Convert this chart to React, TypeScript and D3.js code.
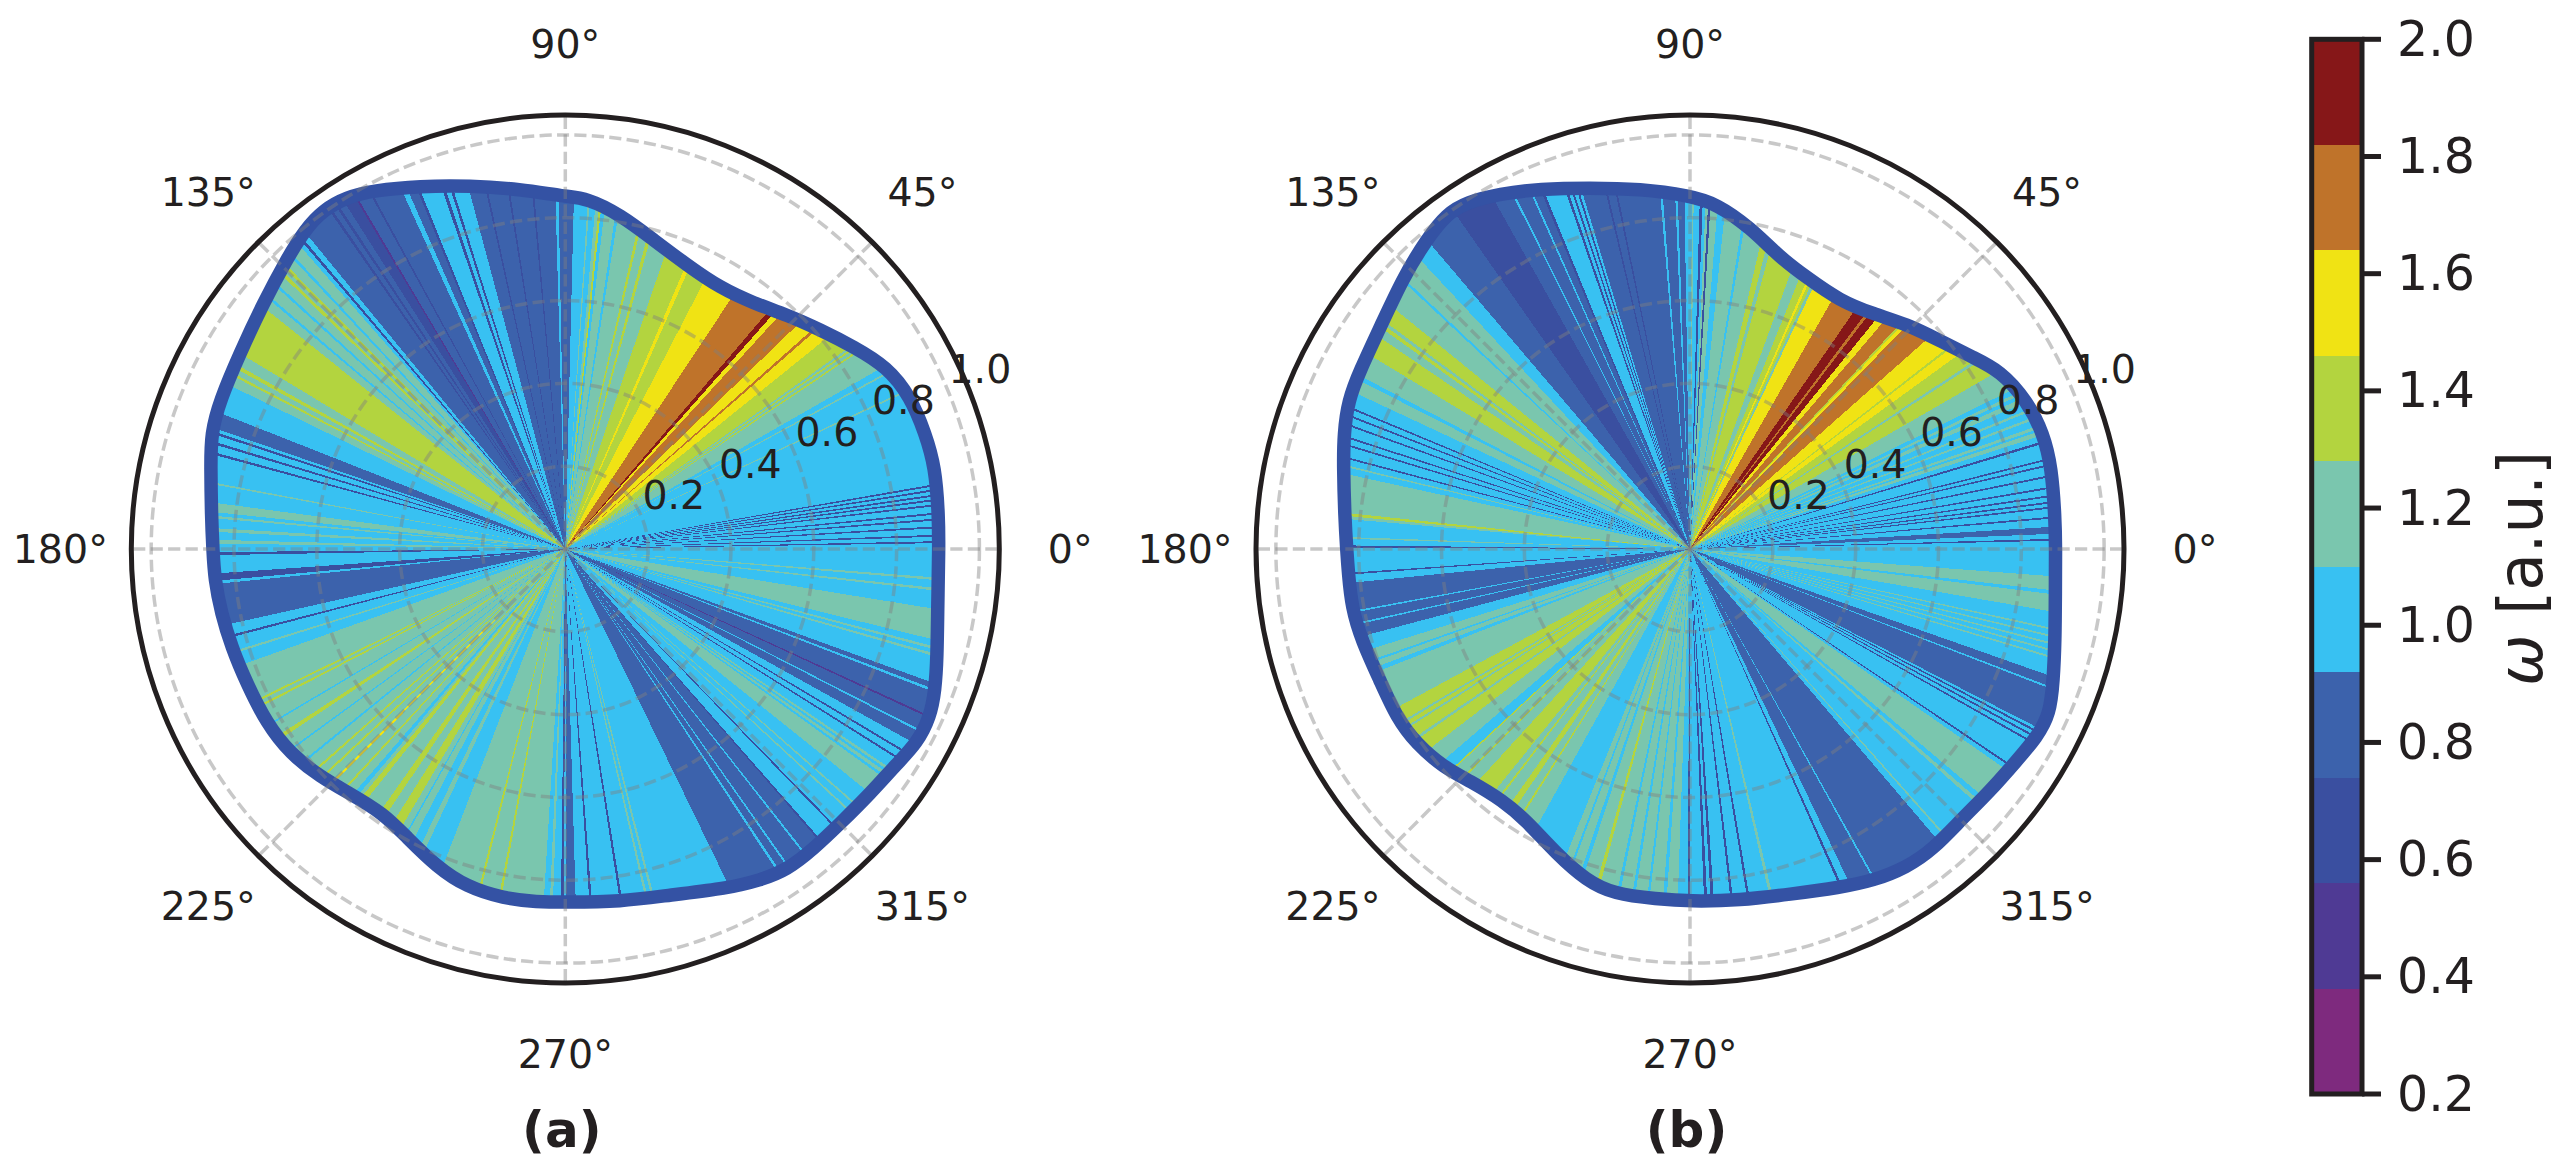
// App.tsx - two polar sector plots sharing one discrete colorbar
import React from "react";
import * as d3 from "d3";

const WIDTH = 2568;
const HEIGHT = 1168;

const omegaLevels = [0.2, 0.38, 0.56, 0.74, 0.92, 1.1, 1.28, 1.46, 1.64, 1.82, 2.0];
const bandColors = ["#7e2a7e", "#4f3a94", "#3a4fa0", "#3c62ac", "#38c1f2", "#7ac6ae", "#b3d43f", "#f0e314", "#bf732a", "#861718"];
const colorbarTicks = [0.2, 0.4, 0.6, 0.8, 1.0, 1.2, 1.4, 1.6, 1.8, 2.0];
const radialTicks = [0.2, 0.4, 0.6, 0.8, 1.0];
const angleTicks = [0, 45, 90, 135, 180, 225, 270, 315];

// outline [angle deg, radius]
const outlineA = [
  [0, 0.902], [5, 0.905], [12.5, 0.915], [17.8, 0.913], [23.8, 0.911], [29.5, 0.893], [35, 0.851], [40.7, 0.812],
  [46.5, 0.779], [52.5, 0.748], [59.3, 0.733], [66.8, 0.746], [74, 0.776], [80.6, 0.818], [86.5, 0.849], [90, 0.851],
  [97.2, 0.876], [104.7, 0.907], [111.8, 0.944], [118.2, 0.982], [121.8, 1.0], [125.5, 1.006], [129.2, 0.995], [134, 0.97],
  [140.9, 0.94], [149, 0.917], [156.7, 0.908], [161.9, 0.9], [166.9, 0.879], [174.8, 0.858], [180, 0.851], [185, 0.85],
  [190.6, 0.845], [196.3, 0.84], [202.9, 0.835], [210.3, 0.835], [216.6, 0.828], [222.9, 0.808], [228.6, 0.787], [235.4, 0.775],
  [241.1, 0.794], [248, 0.828], [253.7, 0.85], [260, 0.857], [265.4, 0.855], [270, 0.853], [278.9, 0.862], [286.9, 0.873],
  [295.5, 0.908], [300.5, 0.928], [304.6, 0.942], [309.7, 0.94], [315, 0.938], [321.3, 0.944], [327.1, 0.954], [331.1, 0.97],
  [335.3, 0.97], [339.1, 0.956], [343.8, 0.935], [351.2, 0.91],
];

const outlineB = [
  [0, 0.883], [5, 0.885], [12.7, 0.895], [18, 0.898], [23.8, 0.889], [29.9, 0.864], [34, 0.826], [39.8, 0.786],
  [46.1, 0.754], [52, 0.72], [58.9, 0.7], [66.8, 0.714], [72.9, 0.737], [79.4, 0.79], [85.6, 0.836], [90, 0.853],
  [97.9, 0.878], [105.5, 0.905], [112.6, 0.942], [118.2, 0.973], [122.8, 0.996], [126, 1.0], [130.3, 0.982], [136.5, 0.954],
  [144.4, 0.92], [151.6, 0.906], [156.5, 0.9], [161.6, 0.881], [166.7, 0.86], [174.8, 0.837], [180, 0.829], [184, 0.827],
  [189.8, 0.829], [195.6, 0.823], [203, 0.813], [209.9, 0.817], [215.5, 0.811], [221.5, 0.795], [226.5, 0.772], [233.4, 0.757],
  [239, 0.766], [246.4, 0.804], [252.7, 0.839], [257.5, 0.853], [264.6, 0.849], [270, 0.851], [278.1, 0.857], [286.2, 0.868],
  [293.9, 0.894], [298.9, 0.915], [304.2, 0.93], [309, 0.933], [315.2, 0.925], [321.1, 0.931], [327.1, 0.94], [331.5, 0.953],
  [335.4, 0.956], [340.1, 0.933], [345.9, 0.909], [353.5, 0.888],
];

// sectors [start angle deg, omega]; each one runs to the next start
const sectorsA = [
  [0, 1], [0.9, 0.65], [1.2, 1], [1.9, 0.65], [2.2, 1], [3.2, 0.65], [3.5, 1], [4.4, 0.65], [4.7, 1], [5.3, 0.65], [5.6, 1],
  [6.6, 0.65], [6.9, 1], [7.4, 0.65], [7.7, 1], [8.1, 0.65], [8.4, 1], [8.9, 0.65], [9.2, 1], [9.65, 0.65], [9.95, 1],
  [24.7, 1.2], [25, 1], [28.5, 1.2], [28.8, 1], [29.8, 1.2], [33.9, 1.37], [34.2, 1.2], [34.7, 1.37], [35, 1.2], [35.4, 1.37],
  [38.9, 1.55], [41.1, 1.73], [41.6, 1.55], [44, 1.73], [47.5, 1.55], [48.5, 1.9], [49.5, 1.73], [56.5, 1.55], [62.6, 1.37],
  [66.2, 1.55], [67, 1.37], [71.3, 1.2], [74.7, 1.37], [75.3, 1.2], [76.8, 1.37], [77.3, 1.2], [81, 1], [81.5, 1.2], [83.4, 1],
  [84, 1.37], [84.4, 1.2], [85, 1], [86, 1.2], [86.3, 1], [88.6, 0.83], [91.1, 1], [91.6, 0.83], [95, 0.65], [95.3, 0.83],
  [98.8, 0.65], [99.1, 0.83], [102.2, 0.65], [102.5, 0.83], [105, 1], [107.3, 0.65], [107.7, 1], [108.4, 0.65], [108.9, 1],
  [112, 0.65], [112.4, 0.83], [113.7, 1], [114.5, 0.83], [118.5, 0.65], [118.8, 0.83], [120.6, 0.47], [120.9, 0.65], [122.5, 0.83],
  [123.4, 0.65], [123.8, 0.83], [124.5, 0.65], [124.9, 0.83], [129.4, 1], [130.2, 0.65], [130.6, 1], [131.2, 1.2], [132.8, 1],
  [133.2, 1.2], [134.5, 1.37], [135, 1.2], [135.5, 1.37], [136, 1.2], [137.4, 1], [137.8, 1.2], [139.5, 1], [139.9, 1.2],
  [141.3, 1.37], [149, 1.2], [150.7, 1.37], [151.3, 1.2], [152.1, 1.37], [152.5, 1.2], [154, 1], [158.5, 0.83], [161, 1],
  [161.5, 0.65], [161.9, 1], [163, 0.65], [163.4, 1], [164.6, 0.65], [165, 1], [169.3, 1.2], [169.6, 1], [172.5, 1.2], [174, 1],
  [174.6, 1.2], [175, 1], [176.6, 1.2], [177.2, 1], [178.5, 1.2], [179.1, 1], [180.5, 0.65], [181, 1], [184, 0.65], [185.2, 1],
  [185.7, 0.83], [192.6, 1], [194.4, 0.65], [194.8, 1], [197.1, 1.2], [197.5, 1], [199.7, 1.2], [206, 1.37], [206.4, 1.2],
  [207, 1.37], [207.4, 1.2], [210.5, 1], [210.8, 1.2], [213, 1.37], [213.7, 1.2], [216, 1], [216.3, 1.2], [218.9, 1], [219.3, 1.2],
  [221.3, 1.37], [221.7, 1.2], [223, 1.37], [223.4, 1.2], [224.9, 1.55], [225.3, 1.2], [227.2, 1.37], [227.6, 1.2], [229.1, 1],
  [229.9, 1.2], [230.6, 1.37], [231.6, 1.2], [234.8, 1.37], [236, 1.2], [237.8, 1.37], [239.5, 1.2], [240.7, 1], [241, 1.2],
  [242.4, 1], [244, 1.2], [245, 1], [248.9, 1.2], [255.7, 1.37], [256.1, 1.2], [259.2, 1.37], [259.6, 1.2], [266.5, 1], [267.5, 1.2],
  [268, 1], [269.3, 0.65], [269.8, 1], [270.1, 0.83], [271.7, 1], [273.9, 0.65], [274.3, 1], [278.8, 0.65], [279.2, 1],
  [282.9, 1.2], [283.3, 1], [283.9, 1.2], [284.3, 1], [295.9, 0.83], [303.3, 1], [303.7, 0.83], [304.9, 1], [305.2, 0.83], [308, 1],
  [308.3, 0.83], [311, 0.65], [311.3, 1], [314, 0.65], [314.3, 1], [317.2, 1.2], [317.5, 1], [318.5, 1.2], [318.8, 1],
  [321.3, 1.2], [324.3, 1], [324.7, 1.2], [325.2, 1], [325.6, 1.2], [326, 1], [327.7, 0.65], [328, 1], [329, 0.65], [329.3, 1],
  [330.9, 0.83], [332.7, 1], [333, 0.83], [335.1, 0.47], [335.4, 0.83], [338.8, 1], [339.2, 0.83], [340, 1], [343.8, 1.2],
  [344.2, 1], [344.8, 1.2], [345.2, 1], [346.2, 1.2], [350.8, 1], [353.6, 1.2], [354, 1], [355.2, 1.2], [355.6, 1],
];

const sectorsB = [
  [0, 1], [1.3, 0.65], [1.6, 1], [2.4, 0.83], [3.5, 1], [4.8, 0.65], [5.1, 1], [6.4, 0.65], [6.7, 1], [7.2, 0.65], [7.5, 1],
  [8.2, 0.65], [8.5, 1], [9.5, 0.65], [9.8, 1], [11.3, 0.65], [11.6, 1], [13, 0.65], [13.3, 1], [13.9, 0.65], [14.2, 1],
  [16.6, 0.65], [17, 1], [17.9, 1.2], [18.6, 1], [19, 1.2], [19.5, 1], [20.6, 1.2], [21, 1], [22, 1.2], [22.4, 1], [23.6, 1.2],
  [24.4, 1], [25, 1.2], [25.5, 1], [26.3, 1.2], [30, 1.37], [33, 1.2], [33.5, 1.37], [35.9, 1.55], [37.6, 1.37], [38, 1.55],
  [41.5, 1.73], [45.9, 1.55], [46.6, 1.37], [47, 1.73], [49.6, 1.55], [51, 1.9], [52.7, 1.73], [53.3, 1.9], [55.4, 1.73],
  [60.3, 1.55], [64.8, 1.2], [65.4, 1.37], [66, 1.55], [66.5, 1.37], [68, 1.2], [70, 1.37], [75, 1.2], [75.8, 1.37], [77, 1.2],
  [80.4, 1], [80.9, 1.2], [84.1, 1], [85.4, 1.2], [86.6, 0.65], [87, 1.2], [87.4, 1], [87.9, 0.65], [88.4, 1], [89.4, 1.2],
  [89.7, 1], [90.9, 0.83], [92, 1], [92.4, 0.83], [94.4, 1], [94.8, 0.83], [101.5, 0.65], [101.8, 0.83], [103, 0.65], [103.3, 0.83],
  [106.8, 1], [107.2, 0.65], [107.5, 1], [108, 0.65], [108.3, 1], [108.8, 0.65], [109.2, 1], [110.2, 1], [112.2, 0.65], [112.6, 0.83],
  [113.8, 1], [114.1, 0.83], [116.3, 1], [116.6, 0.83], [119.3, 0.65], [125, 0.83], [130.4, 1], [133, 1.2], [136.6, 1], [137, 1.2],
  [140.9, 1.37], [143.3, 1.2], [143.8, 1.37], [144.4, 1.2], [145.7, 1.37], [148.8, 1.2], [152.3, 1], [153, 1.2], [155, 1],
  [157.3, 0.65], [157.6, 1], [158.5, 0.65], [158.8, 1], [159.9, 0.65], [160.2, 1], [161.8, 0.65], [162.1, 1], [163, 0.65], [163.3, 1],
  [165, 0.65], [165.3, 1], [166.3, 1.2], [166.6, 1], [167.7, 1.2], [174, 1.37], [174.5, 1.2], [175, 1], [178, 1.2], [178.3, 1],
  [179.4, 0.65], [179.8, 1], [184, 0.65], [184.3, 1], [185.7, 0.83], [190.4, 1], [190.7, 0.83], [192.5, 1], [192.8, 0.83], [194.9, 1],
  [197.4, 1.2], [199.2, 1], [199.6, 1.2], [200.6, 1], [201.4, 1.2], [208.4, 1.37], [210.9, 1.2], [211.3, 1.37], [212, 1.2], [212.4, 1.37],
  [214.4, 1.2], [214.9, 1.37], [217.5, 1.2], [220.6, 1], [222.7, 1.37], [223, 1.2], [225, 1.37], [225.4, 1.2], [227.6, 1.37], [231.1, 1.2],
  [232.3, 1.37], [232.7, 1.2], [234.8, 1.37], [236, 1.2], [237.5, 1.37], [237.9, 1.2], [241.1, 1], [248, 1.2], [249.3, 1], [249.7, 1.2],
  [251.3, 1], [252, 1.2], [254.4, 1.37], [255, 1.2], [258, 1], [258.5, 1.2], [260.5, 1], [261, 1.2], [263, 1], [263.4, 1.2], [265.6, 1],
  [266.2, 1.2], [268, 1], [269.6, 0.65], [270, 1], [272.3, 0.65], [272.8, 1], [273.4, 0.65], [273.9, 1], [276.6, 0.65], [277, 1],
  [279.3, 0.65], [279.7, 1], [282.9, 1.2], [283.4, 1], [293.9, 0.65], [294.3, 1], [295.5, 0.83], [299, 1], [299.3, 0.83], [310.4, 1],
  [311.5, 1.2], [311.8, 1], [318.4, 1.2], [319, 1], [319.8, 1.2], [322.7, 1.2], [325.1, 1], [325.8, 0.65], [326.1, 1], [330.4, 0.65],
  [330.7, 1], [331.3, 0.65], [331.6, 1], [332.1, 0.65], [332.4, 1], [332.8, 0.83], [338.8, 1], [339.1, 0.83], [340.6, 1], [343.2, 1.2],
  [343.5, 1], [344.2, 1.2], [344.5, 1], [345.2, 1.2], [345.5, 1], [346.3, 1.2], [346.6, 1], [347.4, 1.2], [347.7, 1], [350.2, 1.2],
  [352.9, 1], [353.5, 1.2], [355.7, 1],
];

const panels = [
  { id: "a", label: "(a)", cx: 565.3, cy: 549, outline: outlineA, sectors: sectorsA },
  { id: "b", label: "(b)", cx: 1690, cy: 549, outline: outlineB, sectors: sectorsB },
];

const INK = "#231f20";
const OUTLINE = "#3452a4";
const FONT = "'DejaVu Sans', sans-serif";

const color = d3.scaleThreshold<number, string>().domain(omegaLevels.slice(1, -1)).range(bandColors);
const radius = d3.scaleLinear().domain([0, 1.048]).range([0, 434]);
// polar angle in the plot (ccw from east) to d3's angle (cw from north)
const toRad = d3.scaleLinear().domain([0, 360]).range([Math.PI / 2, Math.PI / 2 - 2 * Math.PI]);

// basis spline: the outline points are read by eye, this keeps the rim free of kinks
const rimPath = d3
  .lineRadial<number[]>()
  .angle(d => toRad(d[0]))
  .radius(d => radius(d[1]))
  .curve(d3.curveBasisClosed);

const sectorArc = d3.arc();

const PolarPanel = ({ panel }: { panel: (typeof panels)[number] }) => {
  const { id, label, cx, cy, outline, sectors } = panel;
  const rim = rimPath(outline) as string;
  const rMax = radius.range()[1];
  const gridStyle = { fill: "none", stroke: "#808080", strokeOpacity: 0.43, strokeWidth: 3.5, strokeDasharray: "12.2 5.3" };

  return (
    <g transform={`translate(${cx},${cy})`}>
      <defs>
        <clipPath id={`rim-${id}`}>
          <path d={rim} />
        </clipPath>
      </defs>
      <g clipPath={`url(#rim-${id})`} shapeRendering="crispEdges">
        {sectors.map((s, i) => {
          const end = i + 1 < sectors.length ? sectors[i + 1][0] : 360;
          const d = sectorArc({
            innerRadius: 0,
            outerRadius: rMax,
            startAngle: toRad(end),
            endAngle: toRad(s[0]),
          }) as string;
          return <path key={i} d={d} fill={color(s[1])} />;
        })}
      </g>
      <path d={rim} fill="none" stroke={OUTLINE} strokeWidth={13.5} />
      {radialTicks.map(t => (
        <circle key={t} r={radius(t)} {...gridStyle} />
      ))}
      {angleTicks.map(a => (
        <line
          key={a}
          x2={rMax * Math.cos((a * Math.PI) / 180)}
          y2={-rMax * Math.sin((a * Math.PI) / 180)}
          {...gridStyle}
        />
      ))}
      <circle r={rMax} fill="none" stroke={INK} strokeWidth={5} />
      <g fontFamily={FONT} fontSize={39.5} fill={INK}>
        {angleTicks.map(a => (
          <text
            key={a}
            x={505 * Math.cos((a * Math.PI) / 180)}
            y={-505 * Math.sin((a * Math.PI) / 180)}
            textAnchor="middle"
            dominantBaseline="central"
          >
            {a}°
          </text>
        ))}
        {radialTicks.map(t => (
          <text
            key={t}
            x={radius(t) * Math.cos(Math.PI / 8) + 32}
            y={-radius(t) * Math.sin(Math.PI / 8) - 22}
            textAnchor="middle"
            dominantBaseline="central"
          >
            {t.toFixed(1)}
          </text>
        ))}
      </g>
      <text x={-3.5} y={597.7} textAnchor="middle" fontFamily={FONT} fontSize={50} fontWeight="bold" fill={INK}>
        {label}
      </text>
    </g>
  );
};

const Colorbar = () => {
  const x0 = 2311.7;
  const x1 = 2362;
  const y = d3.scaleLinear().domain([0.2, 2.0]).range([1094, 39.3]);
  return (
    <g>
      {bandColors.map((c, i) => (
        <rect
          key={c}
          x={x0}
          width={x1 - x0}
          y={y(omegaLevels[i + 1])}
          height={y(omegaLevels[i]) - y(omegaLevels[i + 1])}
          fill={c}
          shapeRendering="crispEdges"
        />
      ))}
      <rect x={x0} y={y(2)} width={x1 - x0} height={y(0.2) - y(2)} fill="none" stroke={INK} strokeWidth={5} />
      {colorbarTicks.map(t => (
        <g key={t} transform={`translate(${x1},${y(t)})`}>
          <line x2={19} stroke={INK} strokeWidth={5} />
          <text x={35} dominantBaseline="central" fontFamily={FONT} fontSize={49} fill={INK}>
            {t.toFixed(1)}
          </text>
        </g>
      ))}
      <text
        transform="translate(2542,568.5) rotate(-90)"
        textAnchor="middle"
        fontFamily={FONT}
        fontSize={61.5}
        fill={INK}
      >
        <tspan fontStyle="italic">ω</tspan> [a.u.]
      </text>
    </g>
  );
};

export default function App() {
  return (
    <svg
      width={WIDTH}
      height={HEIGHT}
      viewBox={`0 0 ${WIDTH} ${HEIGHT}`}
      style={{ position: "absolute", left: 0, top: 0, display: "block", background: "#fff" }}
    >
      {panels.map(p => (
        <PolarPanel key={p.id} panel={p} />
      ))}
      <Colorbar />
    </svg>
  );
}
